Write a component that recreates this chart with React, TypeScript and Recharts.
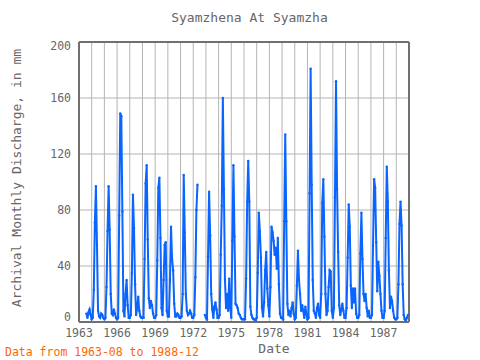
import { LineChart, Line, XAxis, YAxis, CartesianGrid } from "recharts";

const MONO = "'DejaVu Sans Mono', monospace";
const BLUE = "#0a64ff";
const FRAME = "#707070";
const GRID = "#b4b4b4";
const TEXT = "#666666";

// monthly discharge (mm); first row starts in 1963-08, null = missing
const rowYears = [
  1963, 1964, 1965, 1966, 1967, 1968, 1969, 1970, 1971, 1972, 1973, 1974, 1975,
  1976, 1977, 1978, 1979, 1980, 1981, 1982, 1983, 1984, 1985, 1986, 1987, 1988,
];
const flowRows: (number | null)[][] = [
  [6, 3, 7, 9, 5],
  [2, 3, 23, 71, 97, 55, 8, 4, 3, 6, 5, 3],
  [2, 3, 25, 65, 97, 66, 20, 6, 5, 9, 6, 3],
  [2, 3, 76, 149, 147, 79, 8, 4, 20, 30, 12, 3],
  [3, 5, 35, 91, 67, 27, 5, 10, 18, 8, 4, 3],
  [3, 3, 45, 99, 112, 59, 17, 10, 15, 12, 6, 3],
  [3, 5, 44, 96, 103, 60, 10, 5, 30, 55, 57, 8],
  [4, 4, 30, 68, 45, 37, 13, 4, 4, 6, 5, 3],
  [3, 4, 20, 105, 64, 20, 8, 5, 6, 8, 6, 3],
  [3, 5, 32, 80, 98, null, null, null, null, null, null, 5],
  [3, 2, 47, 93, 62, 20, 9, 3, 11, 14, 9, 3],
  [3, 5, 48, 83, 160, 95, 30, 10, 20, 8, 31, 10],
  [3, 58, 112, 61, 13, 12, 10, 6, 5, 3, 2, 2],
  [2, 2, 31, 86, 115, 86, 11, 5, 3, 2, 2, 1],
  [3, 35, 78, 65, 46, 10, 4, 14, 37, 50, 24, 12],
  [4, 25, 68, 64, 58, 48, 53, 38, 60, 27, 6, 3],
  [3, 2, 72, 134, 72, 13, 5, 8, 4, 10, 14, 6],
  [2, 3, 26, 51, 30, 20, 8, 12, 8, 3, 11, 6],
  [2, 3, 92, 181, 98, 30, 8, 6, 3, 10, 13, 5],
  [3, 20, 85, 102, 61, 20, 5, 8, 25, 37, 36, 8],
  [3, 10, 89, 172, 95, 50, 12, 5, 9, 13, 8, 3],
  [3, 10, 46, 84, 68, 26, 10, 24, 14, 24, 6, 3],
  [3, 5, 49, 78, 45, 20, 15, 20, 10, 4, 8, 3],
  [3, 5, 55, 102, 96, 57, 22, 43, 33, 20, 8, 3],
  [3, 8, 60, 111, 86, 37, 10, 18, 15, 8, 3, 2],
  [2, 3, 27, 70, 86, 69, 27, 5, 2, 1, 3, 5],
];

const yearTicks = [
  1963, 1964, 1965, 1966, 1967, 1968, 1969, 1970, 1971, 1972, 1973, 1974, 1975,
  1976, 1977, 1978, 1979, 1980, 1981, 1982, 1983, 1984, 1985, 1986, 1987, 1988, 1989,
];
const labelYears = [1963, 1966, 1969, 1972, 1975, 1978, 1981, 1984, 1987];
const yTicks = [0, 40, 80, 120, 160, 200];
const yMinorTicks = [
  0, 10, 20, 30, 40, 50, 60, 70, 80, 90, 100, 110, 120, 130, 140, 150, 160, 170,
  180, 190, 200,
];

const data: { t: number; v: number | null }[] = [];
flowRows.forEach((row, i) => {
  const first = i === 0 ? 7 : 0;
  row.forEach((v, j) => data.push({ t: rowYears[i] + (first + j) / 12, v }));
});

const frameLine = { stroke: FRAME, strokeWidth: 2 };
const minorLine = { stroke: FRAME, strokeWidth: 1.5 };

// end labels sit a little inside the frame, as in the original
function YTick(props: any) {
  const { x, y, payload } = props;
  const nudge = payload.value === 0 ? -5 : payload.value === 200 ? 4 : 0;
  return (
    <text x={x} y={y + nudge} dy="0.355em" textAnchor="end" fill={TEXT} fontSize={11.5} fontFamily={MONO}>
      {payload.value}
    </text>
  );
}

export default function App() {
  return (
    <div style={{ position: "absolute", left: 0, top: 0, width: 480, height: 360, background: "#fff" }}>
      <LineChart width={480} height={360} data={data} margin={{ top: 42, right: 71, bottom: 8, left: 29 }}>
        <CartesianGrid xAxisId="x" yAxisId="y" stroke={GRID} strokeWidth={1} />
        <XAxis
          xAxisId="x"
          dataKey="t"
          type="number"
          domain={[1963, 1989]}
          ticks={yearTicks}
          interval={0}
          tickFormatter={(y: number) => (labelYears.includes(y) ? String(y) : "")}
          tickLine={false}
          tickSize={4}
          tickMargin={3}
          height={30}
          axisLine={frameLine}
          tick={{ fill: TEXT, fontSize: 11.5, fontFamily: MONO }}
        />
        <XAxis
          xAxisId="top"
          orientation="top"
          mirror
          dataKey="t"
          type="number"
          domain={[1963, 1989]}
          ticks={yearTicks}
          interval={0}
          tick={false}
          tickSize={5}
          tickLine={frameLine}
          axisLine={frameLine}
        />
        <XAxis
          xAxisId="bot"
          orientation="bottom"
          mirror
          dataKey="t"
          type="number"
          domain={[1963, 1989]}
          ticks={yearTicks}
          interval={0}
          tick={false}
          tickSize={5}
          tickLine={frameLine}
          axisLine={false}
        />
        <YAxis
          yAxisId="y"
          type="number"
          domain={[0, 200]}
          ticks={yTicks}
          interval={0}
          width={50}
          tickLine={false}
          tickSize={5}
          tickMargin={3}
          axisLine={frameLine}
          tick={<YTick />}
        />
        <YAxis
          yAxisId="yl"
          orientation="left"
          mirror
          type="number"
          domain={[0, 200]}
          ticks={yMinorTicks}
          interval={0}
          tick={false}
          tickSize={5}
          tickLine={minorLine}
          axisLine={false}
        />
        <YAxis
          yAxisId="r"
          orientation="right"
          mirror
          type="number"
          domain={[0, 200]}
          ticks={yMinorTicks}
          interval={0}
          tick={false}
          tickSize={5}
          tickLine={minorLine}
          axisLine={frameLine}
        />
        {/* invisible copies so the frame axes have a series bound to them */}
        <Line xAxisId="top" yAxisId="r" dataKey="v" stroke="none" dot={false} activeDot={false} isAnimationActive={false} />
        <Line xAxisId="bot" yAxisId="yl" dataKey="v" stroke="none" dot={false} activeDot={false} isAnimationActive={false} />
        <Line
          xAxisId="x"
          yAxisId="y"
          type="linear"
          dataKey="v"
          stroke={BLUE}
          strokeWidth={2}
          dot={{ r: 1.2, fill: BLUE, strokeWidth: 0 }}
          activeDot={false}
          connectNulls={false}
          isAnimationActive={false}
        />
      </LineChart>
      <svg width={480} height={360} style={{ position: "absolute", left: 0, top: 0, pointerEvents: "none" }}>
        <text x={249.5} y={22} textAnchor="middle" fill={TEXT} fontSize={13} fontFamily={MONO}>
          Syamzhena At Syamzha
        </text>
        <text x={21} y={178} textAnchor="middle" fill={TEXT} fontSize={13} fontFamily={MONO} transform="rotate(-90 21 178)">
          Archival Monthly Discharge, in mm
        </text>
        <text x={274} y={353} textAnchor="middle" fill={TEXT} fontSize={13} fontFamily={MONO}>
          Date
        </text>
        <text x={5} y={356} fill="#ff6600" fontSize={11.5} fontFamily={MONO}>
          Data from 1963-08 to 1988-12
        </text>
      </svg>
    </div>
  );
}
